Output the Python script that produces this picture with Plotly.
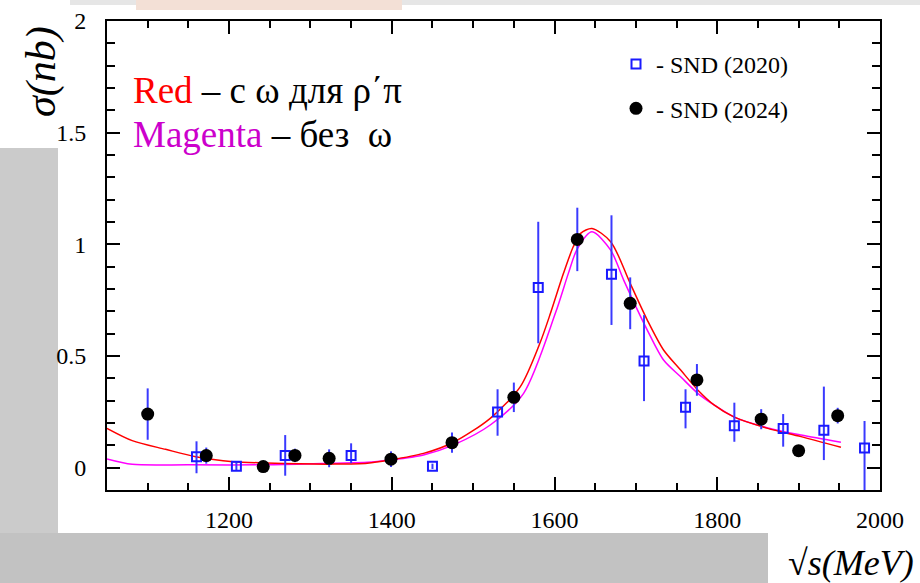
import plotly.graph_objects as go

# ---------------- data ----------------
snd2020_x = [1160, 1209, 1269, 1350, 1450, 1530, 1580, 1670, 1710, 1761, 1821, 1881, 1931, 1981]
snd2020_y = [0.049, 0.006, 0.055, 0.055, 0.006, 0.249, 0.807, 0.866, 0.478, 0.270, 0.188, 0.175, 0.167, 0.088]
snd2020_err_plus = [0.069, 0.020, 0.091, 0.054, 0.012, 0.102, 0.294, 0.264, 0.205, 0.081, 0.103, 0.065, 0.196, 0.121]
snd2020_err_minus = [0.074, 0.020, 0.091, 0.035, 0.012, 0.106, 0.250, 0.227, 0.180, 0.094, 0.072, 0.081, 0.133, 0.200]

snd2024_x = [1100, 1172, 1242, 1281, 1323, 1399, 1474, 1550, 1628, 1693, 1775, 1854, 1900, 1948]
snd2024_y = [0.240, 0.054, 0.005, 0.055, 0.042, 0.038, 0.112, 0.315, 1.022, 0.736, 0.393, 0.217, 0.076, 0.233]
snd2024_err = [0.115, 0.036, 0.020, 0.030, 0.040, 0.035, 0.045, 0.066, 0.142, 0.116, 0.071, 0.045, 0.020, 0.035]

red_x = [1050, 1081, 1122, 1159, 1205, 1246, 1287, 1330, 1370, 1397, 1439, 1476, 1521, 1558,
         1582, 1595, 1611, 1623, 1632, 1646, 1669, 1693, 1714, 1734, 1755, 1776, 1796, 1821,
         1862, 1903, 1952]
red_y = [0.176, 0.121, 0.082, 0.049, 0.027, 0.021, 0.017, 0.016, 0.020, 0.034, 0.064, 0.114, 0.221, 0.363,
         0.557, 0.691, 0.870, 0.989, 1.049, 1.071, 1.012, 0.825, 0.661, 0.527, 0.437, 0.348, 0.281, 0.226,
         0.176, 0.139, 0.091]

mag_x = [1050, 1081, 1150, 1250, 1330, 1370, 1397, 1439, 1476, 1521, 1562, 1601, 1617, 1628,
         1646, 1669, 1685, 1714, 1734, 1755, 1776, 1796, 1821, 1862, 1903, 1952]
mag_y = [0.039, 0.015, 0.013, 0.013, 0.020, 0.024, 0.034, 0.057, 0.102, 0.191, 0.333, 0.691, 0.870, 0.980,
         1.056, 0.974, 0.840, 0.616, 0.482, 0.407, 0.333, 0.281, 0.226, 0.178, 0.146, 0.114]

x_tickvals = [1200, 1400, 1600, 1800, 2000]
y_tickvals = [0, 0.5, 1, 1.5, 2]
y_ticktext = ["0", "0.5", "1", "1.5", "2"]

W, H = 920, 583


def px(x):
    return x / W


def py(y):
    return 1 - y / H


fig = go.Figure()

fig.add_trace(go.Scatter(x=mag_x, y=mag_y, mode="lines", line=dict(color="#ff00ff", width=1.5, shape="spline", smoothing=0.8),
                         showlegend=False, hoverinfo="skip"))
fig.add_trace(go.Scatter(x=red_x, y=red_y, mode="lines", line=dict(color="#ff0000", width=1.5, shape="spline", smoothing=0.8),
                         showlegend=False, hoverinfo="skip"))

fig.add_trace(go.Scatter(
    x=snd2020_x, y=snd2020_y, mode="markers", name="- SND (2020)", legendgroup="a",
    marker=dict(symbol="square-open", size=9, color="#1a1aff", line=dict(width=2, color="#1a1aff")),
    error_y=dict(type="data", symmetric=False, array=snd2020_err_plus, arrayminus=snd2020_err_minus,
                 color="#3a3aff", thickness=2, width=0),
))
fig.add_trace(go.Scatter(
    x=snd2024_x, y=snd2024_y, mode="markers", name="- SND (2024)", legendgroup="b",
    marker=dict(symbol="circle", size=13, color="black", line=dict(width=0)),
    error_y=dict(type="data", array=snd2024_err, color="#3a3aff", thickness=2, width=0),
))

shapes = [
    # light panels of the slide
    dict(type="rect", xref="paper", yref="paper", x0=px(0), x1=px(58), y0=py(533), y1=py(148),
         fillcolor="#cbcbcb", line=dict(width=0), layer="below"),
    dict(type="rect", xref="paper", yref="paper", x0=px(70), x1=px(920), y0=py(5), y1=py(0),
         fillcolor="#e6e6e6", line=dict(width=0), layer="below"),
    dict(type="rect", xref="paper", yref="paper", x0=px(0), x1=px(70), y0=py(148), y1=py(0),
         fillcolor="white", line=dict(width=0), layer="below"),
    dict(type="rect", xref="paper", yref="paper", x0=px(58), x1=px(920), y0=py(533), y1=py(5),
         fillcolor="white", line=dict(width=0), layer="below"),
    dict(type="rect", xref="paper", yref="paper", x0=px(768), x1=px(920), y0=py(583), y1=py(533),
         fillcolor="white", line=dict(width=0), layer="below"),
    dict(type="rect", xref="paper", yref="paper", x0=px(136), x1=px(402), y0=py(10), y1=py(0),
         fillcolor="#f3e0d6", line=dict(width=0), layer="below"),
]

serif = "Liberation Serif"

annotations = [
    dict(xref="paper", yref="paper", x=px(131), y=py(90), xanchor="left", yanchor="middle",
         text="<span style='color:#ff0000'>Red</span> – с ω для ρ΄π", showarrow=False,
         font=dict(family=serif, size=37, color="black")),
    dict(xref="paper", yref="paper", x=px(131), y=py(134), xanchor="left", yanchor="middle",
         text="<span style='color:#cc00cc'>Magenta</span> – без  ω", showarrow=False,
         font=dict(family=serif, size=37, color="black")),
    dict(xref="paper", yref="paper", x=px(41), y=py(72), xanchor="center", yanchor="middle",
         text="<i>σ(nb)</i>", textangle=-90, showarrow=False,
         font=dict(family=serif, size=42, color="black")),
    dict(xref="paper", yref="paper", x=px(851), y=py(563), xanchor="center", yanchor="middle",
         text="√<i>s(MeV)</i>", showarrow=False,
         font=dict(family=serif, size=36, color="black")),
]

fig.update_layout(
    width=W, height=H, autosize=False,
    margin=dict(l=0, r=0, t=0, b=0, autoexpand=False),
    paper_bgcolor="#c2c2c2", plot_bgcolor="white",
    font=dict(family=serif),
    shapes=shapes, annotations=annotations,
    showlegend=True,
    legend=dict(x=px(616), y=py(42), xanchor="left", yanchor="top", bgcolor="rgba(0,0,0,0)",
                font=dict(family=serif, size=24, color="black"), traceorder="grouped",
                tracegroupgap=10, itemwidth=30),
    xaxis=dict(domain=[px(107), px(880)], range=[1050, 2000], tickvals=x_tickvals,
               ticks="inside", ticklen=13, tickwidth=1.5, tickcolor="black",
               minor=dict(dtick=50, tick0=1000, ticks="inside", ticklen=7, tickwidth=1.5, tickcolor="black"),
               showline=True, linecolor="black", linewidth=2, mirror="ticks", showgrid=False, zeroline=False,
               tickfont=dict(family=serif, size=24, color="black"), ticklabelstandoff=7),
    yaxis=dict(domain=[py(490), py(21)], range=[-0.1, 2], tickvals=y_tickvals, ticktext=y_ticktext,
               ticks="inside", ticklen=13, tickwidth=1.5, tickcolor="black",
               minor=dict(dtick=0.1, tick0=0, ticks="inside", ticklen=8, tickwidth=1.5, tickcolor="black"),
               showline=True, linecolor="black", linewidth=2, mirror="ticks", showgrid=False, zeroline=False,
               tickfont=dict(family=serif, size=24, color="black"), ticklabelstandoff=14),
)

fig.write_html("out.html")
